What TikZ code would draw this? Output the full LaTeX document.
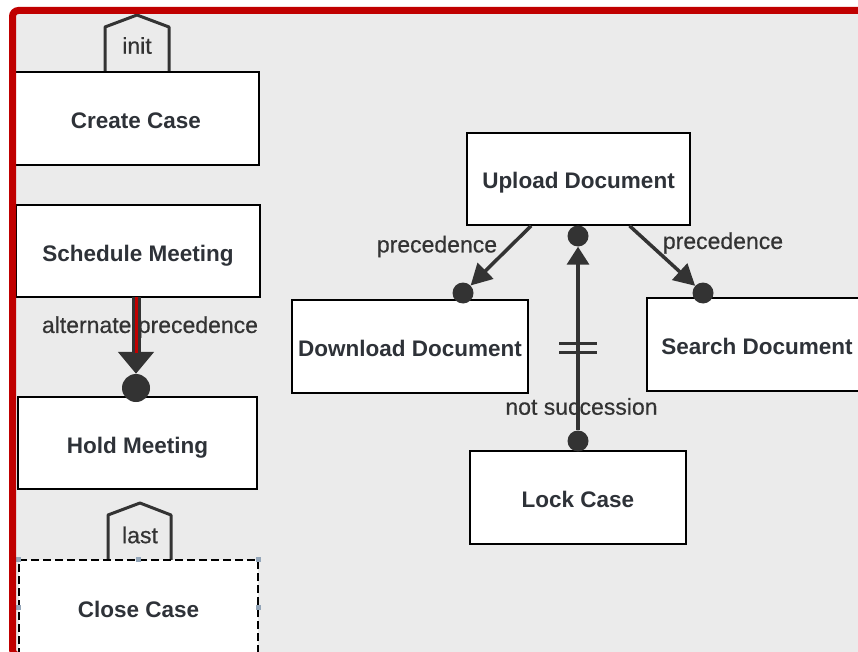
\documentclass[tikz,border=0pt]{standalone}
\usepackage{fontspec}
\setmainfont{Liberation Sans}
\newfontfamily\relfont[FakeBold=0.5]{Liberation Sans}
\usepackage{tikz}
\usetikzlibrary{arrows.meta}
\definecolor{canvas}{HTML}{EBEBEB}
\definecolor{frame}{HTML}{C00000}
\definecolor{edgegray}{HTML}{333333}
\definecolor{textgray}{HTML}{2E3238}
\definecolor{handleblue}{HTML}{93A5B8}
\tikzstyle{activity}=[draw=black, line width=1.5pt, fill=white, inner sep=0pt, text height=20pt, text depth=0pt, text=textgray, font=\fontsize{22.5}{27}\selectfont\bfseries]
\tikzstyle{dot}=[circle, fill=edgegray, inner sep=0pt, minimum size=21pt]
\tikzstyle{bigdot}=[circle, fill=edgegray, inner sep=0pt, minimum size=28pt]
\tikzstyle{rel}=[inner sep=0pt, text=edgegray, font=\relfont\fontsize{23}{27}\selectfont]
\tikzstyle{tab}=[draw=edgegray, line width=3pt, line join=round]
\tikzstyle{precarrow}=[draw=edgegray, line width=3.5pt, -{Triangle[length=21pt, width=22pt]}]
\tikzstyle{altarrow}=[draw=edgegray, line width=9pt, -{Triangle[length=22pt, width=35pt]}]
\tikzstyle{handle}=[rectangle, fill=handleblue, inner sep=0pt, minimum size=5pt]

\begin{document}
\begin{tikzpicture}[x=1pt, y=-1pt]
	\useasboundingbox (0,0) rectangle (858,652);
	\clip (0,0) rectangle (858,652);
	\fill[white] (0,0) rectangle (858,652);
	\fill[canvas] (12,10) rectangle (858,652);
	% left column
	\begin{scope}
		\draw[tab] (105,72) -- (105,27) -- (137,15) -- (169,27) -- (169,72);
		\node (init) at (137,45.5)[rel] {init};
		\node (create) at (136,118.5)[activity, minimum width=246pt, minimum height=93pt] {Create Case};
		\node (schedule) at (138,251)[activity, minimum width=244pt, minimum height=92pt] {Schedule Meeting};
		\node (hold) at (137.5,443)[activity, minimum width=239pt, minimum height=92pt] {Hold Meeting};
		\draw[tab] (108,560) -- (108,515) -- (140,503) -- (171,515) -- (171,560);
		\node (last) at (140,535)[rel] {last};
		\node (close) at (138.5,607)[activity, dash pattern=on 8pt off 4pt, line width=1.2pt, minimum width=239pt, minimum height=94pt] {Close Case};
		\foreach \a in {north west, north, north east, west, east}
			\node[handle] at (close.\a) {};
	\end{scope}
	% right group
	\begin{scope}
		\node (upload) at (578.5,179)[activity, minimum width=223pt, minimum height=92pt] {Upload Document};
		\node (download) at (410,346.5)[activity, minimum width=236pt, minimum height=93pt] {Download Document};
		\node (search) at (757,344.5)[activity, minimum width=220pt, minimum height=93pt] {Search Document};
		\node (lock) at (578,497.5)[activity, minimum width=216pt, minimum height=93pt] {Lock Case};
	\end{scope}
	% constraints
	\begin{scope}
		\node (altlbl) at (150,327)[rel] {alternate precedence};
		\node (precl) at (437,246.5)[rel] {precedence};
		\node (precr) at (723,243)[rel] {precedence};
		\node (notsucc) at (581.5,406.5)[rel] {not succession};
		\node (holdDot) at (136,388)[bigdot] {};
		\node (dlDot) at (463,293)[dot] {};
		\node (srDot) at (703,293)[dot] {};
		\node (upDot) at (578,236)[dot] {};
		\node (lockDot) at (578,441)[dot] {};
		\coordinate (altTop) at (136,297);
		\coordinate (altRed) at (136,353);
		\draw[altarrow] (altTop) -- (holdDot);
		\draw[frame, line width=3pt] (altTop) -- (altRed);
		\draw[precarrow] (upload) -- (dlDot);
		\draw[precarrow] (upload) -- (srDot);
		\draw[precarrow, -{Triangle[length=18pt, width=22pt]}] (lockDot) -- (upDot);
		\draw[edgegray, line width=3pt] (559,343) -- (597,343) (559,352) -- (597,352);
	\end{scope}
	\draw[frame, line width=7pt, rounded corners=6pt] (12.5,10.5) rectangle (880,655.5);
\end{tikzpicture}
\end{document}
